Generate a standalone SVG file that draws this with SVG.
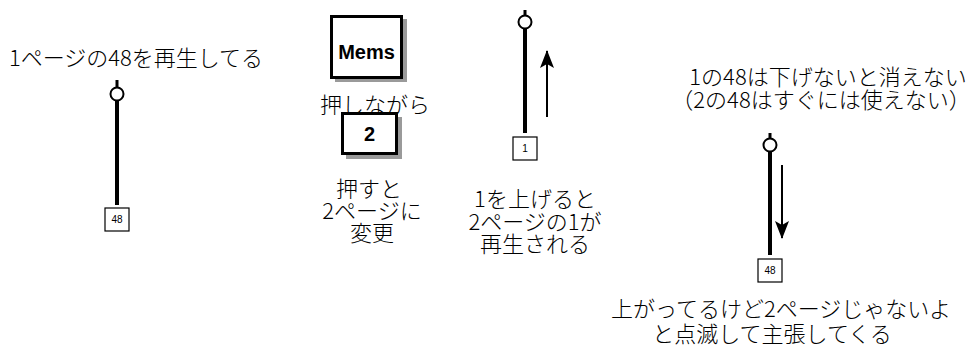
<svg xmlns="http://www.w3.org/2000/svg" width="972" height="347" viewBox="0 0 972 347">
<style>
.t{font-family:"Noto Sans CJK JP","Liberation Sans",sans-serif;font-size:22px;font-weight:300;fill:#000;text-anchor:middle;dominant-baseline:central}
.stub{stroke:#000;stroke-width:3;fill:none}
.rod{stroke:#000;stroke-width:4;fill:none}
.knob{fill:#fff;stroke:#000;stroke-width:2}
.lbl{fill:#fff;stroke:#000;stroke-width:1.2}
.lt{font-family:"Liberation Sans",Arial,sans-serif;font-size:10px;text-anchor:middle;dominant-baseline:central}
.btn{fill:#fff;stroke:#000;stroke-width:3}
.sh{fill:#9a9a9a}
.bt{font-family:"Liberation Sans",Arial,sans-serif;font-weight:bold;font-size:20px;text-anchor:middle;dominant-baseline:central}
.arr{stroke:#000;stroke-width:2;fill:none}
</style>
<defs>
<marker id="ah" viewBox="0 0 18 14" refX="17" refY="7" markerWidth="18" markerHeight="14" markerUnits="userSpaceOnUse" orient="auto">
<path d="M0,0 L18,7 L0,14 L4,7 z" fill="#000"/>
</marker>
</defs>

<g id="caption1"><text class="t" x="136" y="56">1ページの48を再生してる</text></g>

<g id="fader1">
<line class="stub" x1="117" y1="80" x2="117" y2="88"/>
<line class="rod" x1="117" y1="100" x2="117" y2="205"/>
<circle class="knob" cx="117" cy="94" r="6.5"/>
<rect class="lbl" x="105" y="208" width="24" height="23"/>
<text class="lt" x="117" y="219.5">48</text>
</g>

<g id="mems">
<rect class="sh" x="335" y="19" width="72" height="63"/>
<rect class="btn" x="331.5" y="16.5" width="70" height="61"/>
<text class="bt" x="366.5" y="52">Mems</text>
</g>

<g id="caption2a"><text class="t" x="375" y="103">押しながら</text></g>

<g id="btn2">
<rect class="sh" x="346" y="117" width="56" height="42"/>
<rect class="btn" x="342.5" y="113.5" width="54" height="40"/>
<text class="bt" x="369.5" y="134">2</text>
</g>

<g id="caption2b">
<text class="t" x="369" y="187">押すと</text>
<text class="t" x="372" y="209">2ページに</text>
<text class="t" x="372" y="231">変更</text>
</g>

<g id="fader2">
<line class="stub" x1="525" y1="10" x2="525" y2="16"/>
<line class="rod" x1="525" y1="28" x2="525" y2="133"/>
<circle class="knob" cx="525" cy="22" r="6.5"/>
<rect class="lbl" x="513" y="137" width="24" height="23"/>
<text class="lt" x="525" y="148.5">1</text>
</g>

<g id="caption3">
<text class="t" x="535" y="197">1を上げると</text>
<text class="t" x="535" y="220">2ページの1が</text>
<text class="t" x="535" y="242">再生される</text>
</g>

<g id="caption4">
<text class="t" x="828" y="75">1の48は下げないと消えない</text>
<text class="t" x="821" y="98">（2の48はすぐには使えない）</text>
</g>

<g id="fader3">
<line class="stub" x1="770" y1="133" x2="770" y2="139"/>
<line class="rod" x1="770" y1="151" x2="770" y2="255"/>
<circle class="knob" cx="770" cy="145" r="6.5"/>
<rect class="lbl" x="758" y="259" width="24" height="23"/>
<text class="lt" x="770" y="270.5">48</text>
</g>

<g id="caption5">
<text class="t" x="781" y="307">上がってるけど2ページじゃないよ</text>
<text class="t" x="772" y="332">と点滅して主張してくる</text>
</g>

<g id="connectors">
<line class="arr" x1="547" y1="117" x2="547" y2="51" marker-end="url(#ah)"/>
<line class="arr" x1="782" y1="165" x2="782" y2="238" marker-end="url(#ah)"/>
</g>
</svg>
